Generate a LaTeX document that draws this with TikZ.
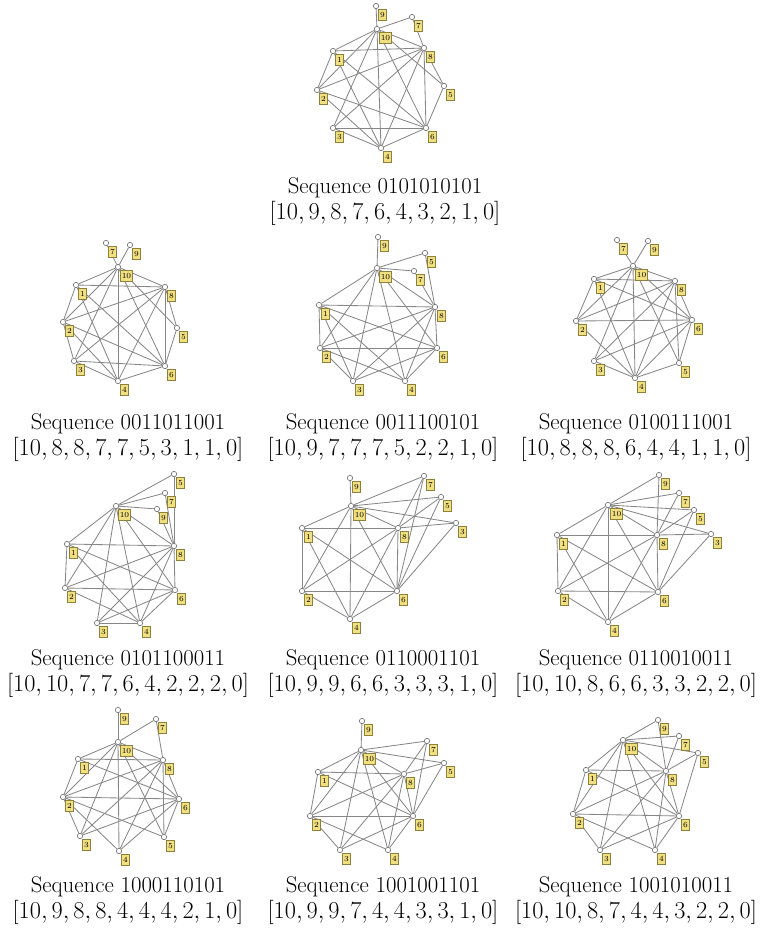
\documentclass[tikz,border=0pt]{standalone}
\usepackage{amsmath}
\usepackage{tikz}
\usetikzlibrary{positioning,calc}
\definecolor{LabelFill}{RGB}{240,224,128}
\definecolor{LabelEdge}{RGB}{140,128,60}
\definecolor{EdgeGray}{RGB}{135,135,135}
\pgfdeclarelayer{background}
\pgfsetlayers{background,main}
\tikzset{
  vtx/.style  ={circle, draw=black!55, fill=white, line width=.45pt,
                minimum size=3.8pt, inner sep=0pt},
  lab/.style  ={rectangle, draw=LabelEdge, fill=LabelFill, line width=.35pt,
                font=\fontsize{5.5}{5.5}\selectfont, inner xsep=.8pt, inner ysep=.5pt,
                minimum width=5.6pt, minimum height=7.6pt},
  gline/.style={draw=EdgeGray, line width=.6pt},
  caption/.style={align=center, font=\fontsize{16.2}{18.5}\selectfont},
}
% vertices of one graph: prefix, list label/x/y
\newcommand\placegraph[2]{%
  \foreach \n/\x/\y in {#2}{
    \node[vtx] (#1-\n) at (\x,\y) {};
    \node[lab, below right=.8pt and .2pt of #1-\n] (#1-\n-l) {\n};
  }}
% threshold graph: prefix, creation order, bits (1 = joins all earlier)
\newcommand\threshedges[3]{%
  \begin{pgfonlayer}{background}
  \foreach \j in {2,...,10}{
    \pgfmathtruncatemacro\bit{{#3}[\j-1]}
    \ifnum\bit=1
      \pgfmathtruncatemacro\vj{{#2}[\j-1]}
      \pgfmathtruncatemacro\last{\j-1}
      \foreach \i in {1,...,\last}{
        \pgfmathtruncatemacro\vi{{#2}[\i-1]}
        \draw[gline] (#1-\vi) -- (#1-\vj);
      }
    \fi
  }
  \end{pgfonlayer}}

\begin{document}
\begin{tikzpicture}[x=0.025cm, y=-0.025cm]
  \useasboundingbox (0,0) rectangle (759,938);
  % top
  \placegraph{t}{9/376/6, 7/412/17, 10/377/29, 1/333/51, 8/424/48, 2/317/90, 5/444/86, 3/333/128, 6/426/128, 4/381/148}
  \threshedges{t}{1,2,3,4,5,6,7,8,9,10}{0,1,0,1,0,1,0,1,0,1}
  \node[caption] (t-cap) at (385,202) {Sequence 0101010101\\$[10,9,8,7,6,4,3,2,1,0]$};
  % second row
  \placegraph{a}{7/106/243, 9/130/245, 10/118/267, 1/76/285, 8/165/287, 2/63/322, 5/177/328, 3/74/361, 6/165/366, 4/118/381}
  \threshedges{a}{1,3,2,4,5,6,8,7,9,10}{0,0,1,1,0,1,1,0,0,1}
  \node[caption] (a-cap) at (128,438) {Sequence 0011011001\\$[10,8,8,7,7,5,3,1,1,0]$};
  \placegraph{b}{9/378/237, 5/425/253, 10/377/268, 7/414/271, 1/319/305, 8/435/307, 2/320/348, 6/437/348, 3/353/381, 4/405/381}
  \threshedges{b}{3,4,1,2,6,5,7,8,9,10}{0,0,1,1,1,0,0,1,0,1}
  \node[caption] (b-cap) at (383,438) {Sequence 0011100101\\$[10,9,7,7,7,5,2,2,1,0]$};
  \placegraph{c}{7/617/240, 9/648/241, 10/633/266, 1/594/279, 8/675/281, 2/576/321, 6/692/320, 3/594/361, 5/679/363, 4/635/378}
  \threshedges{c}{1,2,3,5,4,6,8,7,9,10}{0,1,0,0,1,1,1,0,0,1}
  \node[caption] (c-cap) at (636,438) {Sequence 0100111001\\$[10,8,8,8,6,4,4,1,1,0]$};
  % third row
  \placegraph{d}{5/174/474, 7/165/493, 9/157/509, 10/116/506, 1/67/544, 8/174/546, 2/65/588, 6/175/590, 3/97/623, 4/140/623}
  \threshedges{d}{1,2,3,4,6,5,7,9,8,10}{0,1,0,1,1,0,0,0,1,1}
  \node[caption] (d-cap) at (128,674) {Sequence 0101100011\\$[10,10,7,7,6,4,2,2,2,0]$};
  \placegraph{e}{9/350/478, 7/424/476, 5/441/497, 10/351/506, 3/456/523, 1/302/528, 8/398/528, 2/302/591, 6/397/591, 4/350/619}
  \threshedges{e}{1,2,4,3,5,7,6,8,9,10}{0,1,1,0,0,0,1,1,0,1}
  \node[caption] (e-cap) at (383,674) {Sequence 0110001101\\$[10,9,9,6,6,3,3,3,1,0]$};
  \placegraph{f}{9/659/475, 7/679/493, 5/694/510, 10/608/505, 1/557/535, 8/657/535, 3/711/534, 2/558/591, 6/658/592, 4/608/622}
  \threshedges{f}{1,2,4,3,5,6,7,9,8,10}{0,1,1,0,0,1,0,0,1,1}
  \node[caption] (f-cap) at (636,674) {Sequence 0110010011\\$[10,10,8,6,6,3,3,2,2,0]$};
  % fourth row
  \placegraph{g}{9/118/710, 7/156/719, 10/118/742, 1/78/759, 8/163/760, 2/63/797, 6/179/799, 3/80/836, 5/164/837, 4/119/851}
  \threshedges{g}{1,3,4,5,2,6,7,8,9,10}{1,0,0,0,1,1,0,1,0,1}
  \node[caption] (g-cap) at (128,901) {Sequence 1000110101\\$[10,9,8,8,4,4,4,2,1,0]$};
  \placegraph{h}{9/362/721, 7/427/741, 10/361/750, 5/444/763, 1/318/772, 8/404/774, 2/310/816, 6/413/816, 3/340/850, 4/388/850}
  \threshedges{h}{1,3,4,2,5,7,6,8,9,10}{1,0,0,1,0,0,1,1,0,1}
  \node[caption] (h-cap) at (383,901) {Sequence 1001001101\\$[10,9,9,7,4,4,3,3,1,0]$};
  \placegraph{k}{9/658/720, 10/623/740, 7/679/736, 5/698/753, 1/586/770, 8/666/771, 2/573/814, 6/679/816, 3/600/850, 4/655/850}
  \threshedges{k}{1,3,4,2,5,6,7,9,8,10}{1,0,0,1,0,1,0,0,1,1}
  \node[caption] (k-cap) at (636,901) {Sequence 1001010011\\$[10,10,8,7,4,4,3,2,2,0]$};
\end{tikzpicture}
\end{document}
